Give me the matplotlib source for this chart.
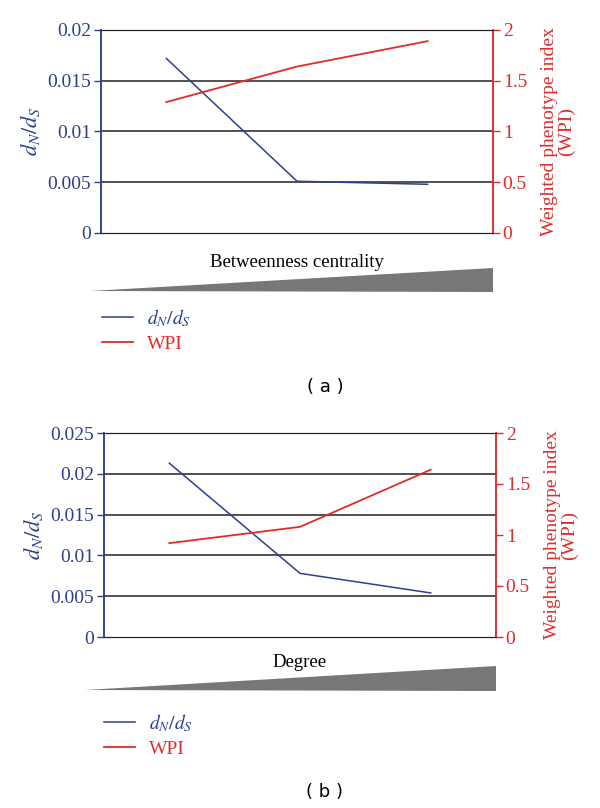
import numpy as np
import matplotlib
matplotlib.use('Agg')
import matplotlib.pyplot as plt
from matplotlib.patches import Polygon

plt.rcParams['font.family'] = ['Liberation Serif', 'DejaVu Serif']
plt.rcParams['mathtext.fontset'] = 'stix'

#values
cats = [0, 1, 2]
dnds_a = [0.0172, 0.0051, 0.0048]
wpi_a = [1.29, 1.64, 1.89]
dnds_b = [0.0213, 0.0078, 0.0054]
wpi_b = [0.92, 1.08, 1.64]
xlabels = ['Betweenness centrality', 'Degree']
ylim_left = [0.02, 0.025]
yticks_left = [[0, 0.005, 0.01, 0.015, 0.02], [0, 0.005, 0.01, 0.015, 0.02, 0.025]]
ytick_labels_left = [['0', '0.005', '0.01', '0.015', '0.02'],
                     ['0', '0.005', '0.01', '0.015', '0.02', '0.025']]
yticks_right = [0, 0.5, 1, 1.5, 2]
ytick_labels_right = ['0', '0.5', '1', '1.5', '2']
captions = ['( a )', '( b )']

blue = '#2d3f8e'
red = '#e02b2b'
W, H = 600, 808

fig = plt.figure(figsize=(6, 8.08), dpi=100)

def px(x, y):
    return (x / W, 1 - y / H)

def panel(k, left, top, right, bottom, dn, wp, xpad):
    ax = fig.add_axes([left / W, 1 - bottom / H, (right - left) / W, (bottom - top) / H])
    ax2 = ax.twinx()
    ax.set_xlim(-0.5, 2.5)
    ax.set_ylim(0, ylim_left[k])
    ax2.set_ylim(0, 2)
    for y in yticks_left[k][1:]:
        ax.axhline(y, color='#222222', lw=1.1, zorder=1)
    l1, = ax.plot(cats, dn, color=blue, lw=1.1, label='$d_N/d_S$', zorder=3)
    l2, = ax2.plot(cats, wp, color=red, lw=1.3, label='WPI', zorder=3)
    ax.set_xticks([])
    ax.set_yticks(yticks_left[k])
    ax.set_yticklabels(ytick_labels_left[k], color=blue, fontsize=14)
    ax.tick_params(axis='y', colors=blue, length=5, width=1, pad=2, labelcolor=blue)
    ax2.set_yticks(yticks_right)
    ax2.set_yticklabels(ytick_labels_right, color=red, fontsize=14)
    ax2.tick_params(axis='y', colors=red, length=5, width=1, pad=2, labelcolor=red)
    for a in (ax, ax2):
        a.spines['left'].set_color(blue)
        a.spines['right'].set_color(red)
        a.spines['top'].set_color('#222222')
        a.spines['bottom'].set_color('#222222')
        a.spines['left'].set_linewidth(1.1)
        a.spines['right'].set_linewidth(1.1)
    ax.set_ylabel('$d_N/d_S$', color=blue, fontsize=16, labelpad=4)
    ax2.set_ylabel('Weighted phenotype index\n(WPI)', color=red, fontsize=14,
                   labelpad=10, linespacing=1.0)
    ax.set_xlabel(xlabels[k], fontsize=13.5, labelpad=xpad)
    return ax, l1, l2

def legend(l1, l2, x, y):
    leg = fig.legend([l1, l2], ['$d_N/d_S$', 'WPI'], loc='upper left',
                     bbox_to_anchor=px(x, y), frameon=False, fontsize=14,
                     handlelength=1.6, labelspacing=0.35, handletextpad=0.7,
                     borderaxespad=0, borderpad=0)
    for t, c in zip(leg.get_texts(), [blue, red]):
        t.set_color(c)

# panel (a)
ax_a, l1, l2 = panel(0, 101, 30, 493, 233, dnds_a, wpi_a, 15)
fig.patches.append(Polygon([px(90, 291), px(493, 268), px(493, 292)], closed=True,
                           transform=fig.transFigure, facecolor='#777777', edgecolor='none'))
legend(l1, l2, 102, 307)
fig.text(325 / W, 1 - 387 / H, captions[0], ha='center', va='center',
         fontsize=13, family='DejaVu Sans')

# panel (b)
ax_b, l1, l2 = panel(1, 104, 433, 496, 637, dnds_b, wpi_b, 12)
fig.patches.append(Polygon([px(85, 690), px(496, 666), px(496, 691)], closed=True,
                           transform=fig.transFigure, facecolor='#777777', edgecolor='none'))
legend(l1, l2, 104, 712)
fig.text(325 / W, 1 - 792 / H, captions[1], ha='center', va='center',
         fontsize=13, family='DejaVu Sans')

plt.savefig('out.png', dpi=100)
